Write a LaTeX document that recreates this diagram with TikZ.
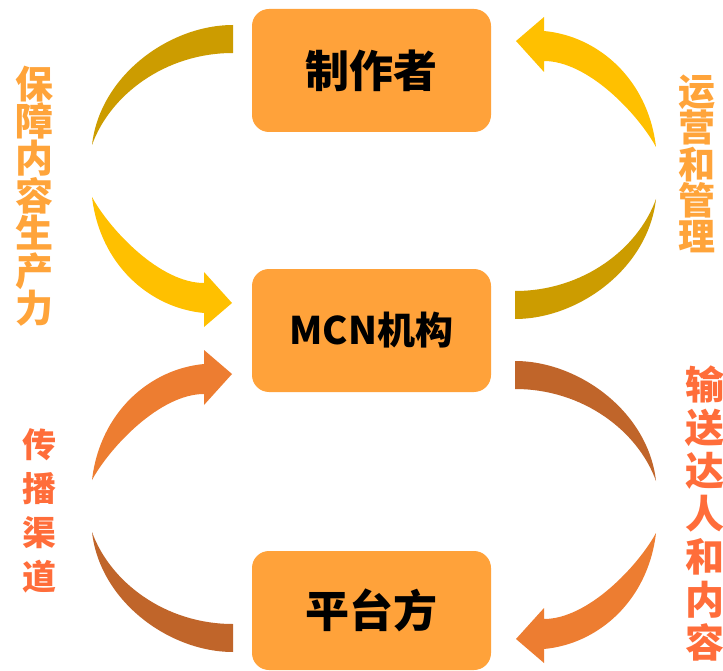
\documentclass[tikz,border=0pt]{standalone}
\usepackage{fontspec}
\newfontfamily\cjk{Noto Sans CJK SC}
\definecolor{boxc}{HTML}{FFA23A}
\definecolor{goldd}{HTML}{CC9C00}
\definecolor{yell}{HTML}{FFC000}
\definecolor{orng}{HTML}{ED7D31}
\definecolor{brwn}{HTML}{C0652A}
\definecolor{labA}{HTML}{FFA43A}
\definecolor{labB}{HTML}{FF6D3A}
\newcommand{\armpair}[3]{%
  \begin{scope}[#1]
    \fill[#2] (233,25) .. controls (170,25) and (100,75) .. (92,145)
      .. controls (110,95) and (165,53) .. (233,53) -- cycle;
    \fill[#3] (92,197) .. controls (100,265) and (150,308) .. (204,313)
      -- (204,327) -- (232,303) -- (204,272) -- (204,283)
      .. controls (160,283) and (110,230) .. (92,197) -- cycle;
  \end{scope}}
\begin{document}
\begin{tikzpicture}[x=1pt,y=-1pt,
  boxnode/.style={fill=boxc, rounded corners=17pt, minimum width=239pt,
    minimum height=123pt, inner sep=0pt,
    font=\cjk\bfseries\fontsize{44}{44}\selectfont},
  sidelab/.style={align=center, inner sep=0pt, font=\cjk\bfseries}]
\useasboundingbox (0,0) rectangle (723,671);
\fill[white] (0,0) rectangle (723,671);
% arrows
\armpair{}{goldd}{yell}
\armpair{rotate around={180:(374,172)}}{goldd}{yell}
\armpair{shift={(0,677)}, yscale=-1}{brwn}{orng}
\armpair{shift={(748,336)}, xscale=-1}{brwn}{orng}
% boxes
\node[boxnode] (maker) at (371.5,70.5) {制作者};
\node[boxnode, font=\cjk\bfseries\fontsize{38}{38}\selectfont] (mcn) at (371.5,330.5) {MCN机构};
\node[boxnode, minimum height=119pt] (plat) at (371.5,610.5) {平台方};
% side labels
\node[sidelab, text=labA, font=\cjk\bfseries\fontsize{38}{37.4}\selectfont] (lab1) at (35,196) {保\\障\\内\\容\\生\\产\\力};
\node[sidelab, text=labA, font=\cjk\bfseries\fontsize{37}{36.4}\selectfont] (lab2) at (697,164) {运\\营\\和\\管\\理};
\node[sidelab, text=labB, font=\cjk\bfseries\fontsize{34}{44}\selectfont] (lab3) at (39,510.5) {传\\播\\渠\\道};
\node[sidelab, text=labB, font=\cjk\bfseries\fontsize{39}{43}\selectfont] (lab4) at (705,513.5) {输\\送\\达\\人\\和\\内\\容};
\end{tikzpicture}
\end{document}
